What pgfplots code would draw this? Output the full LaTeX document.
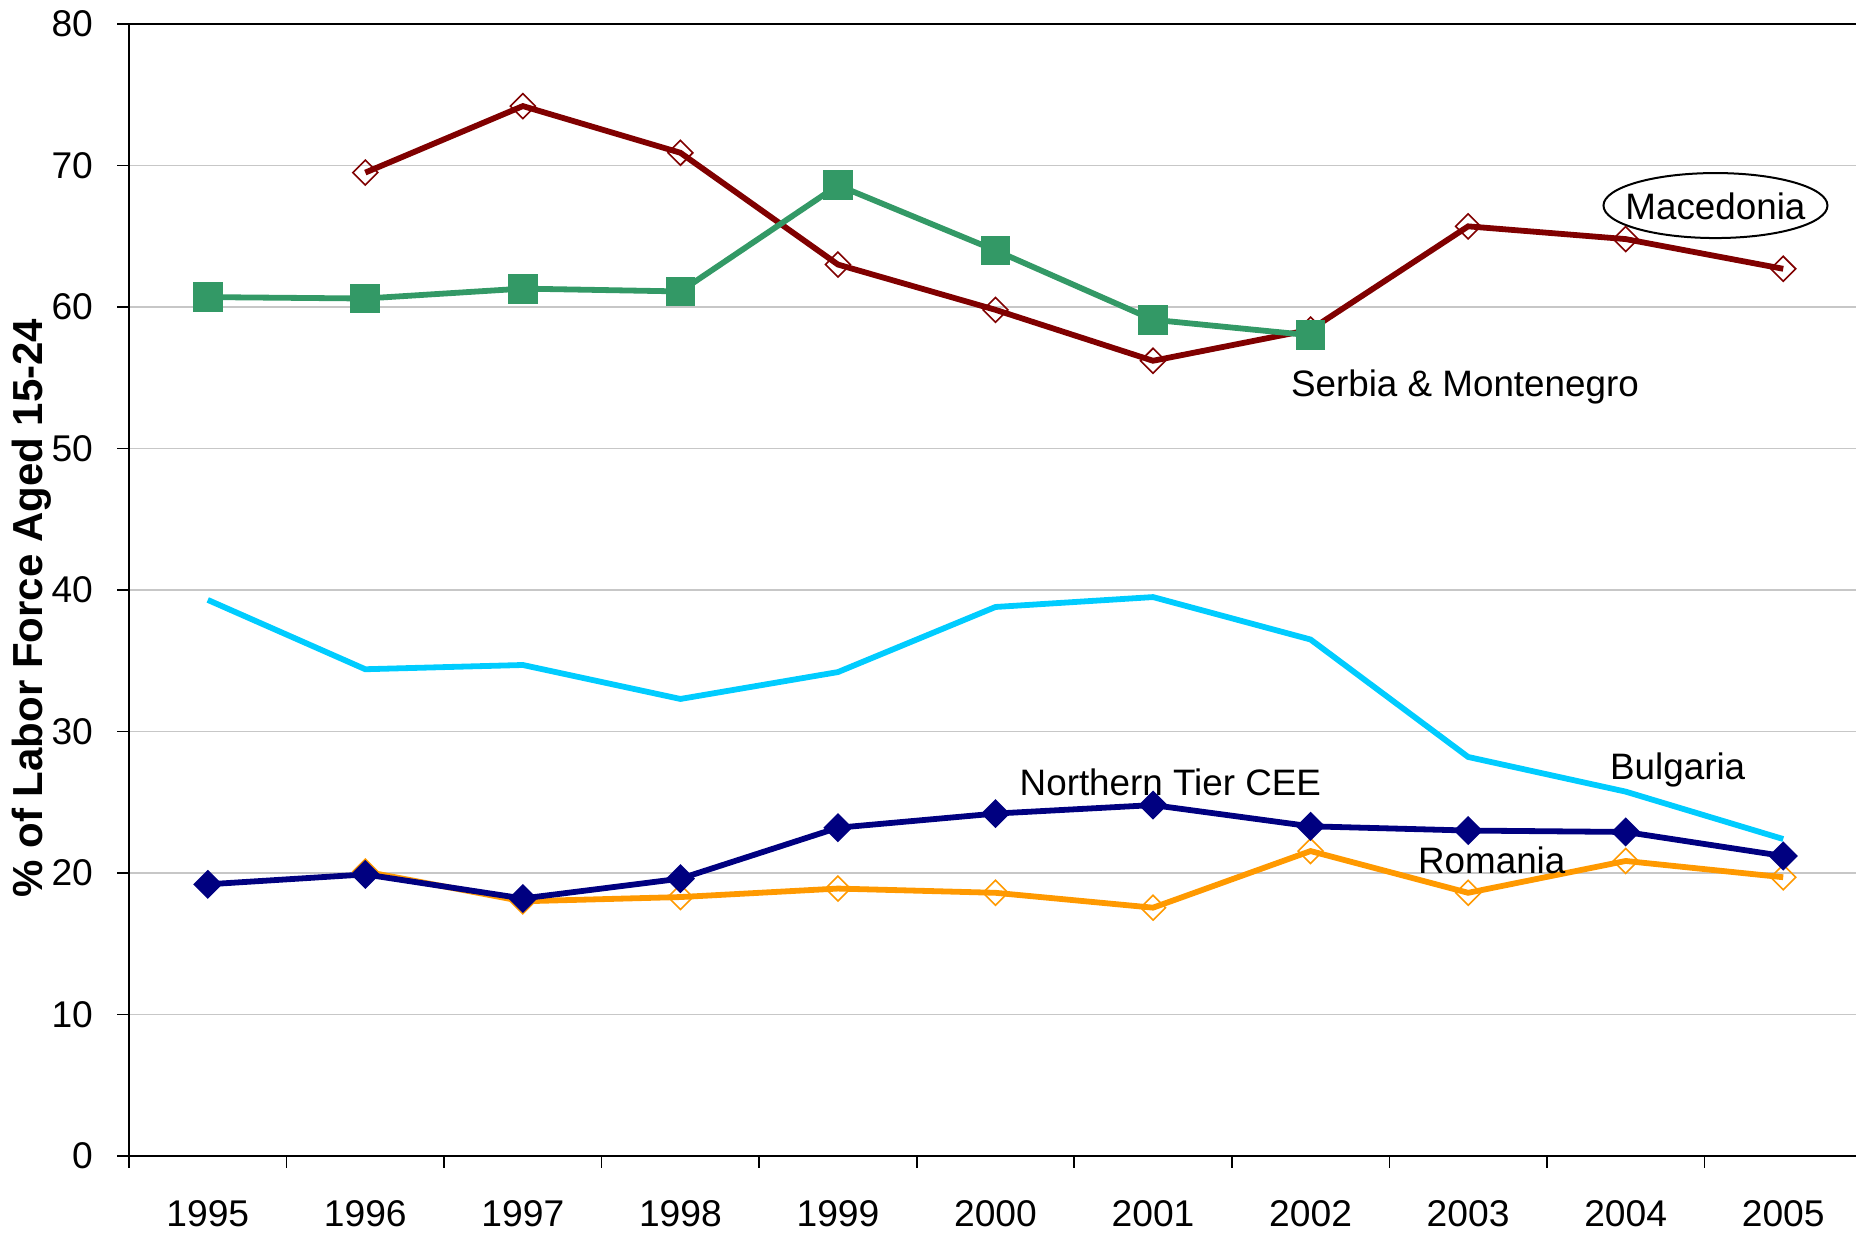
\documentclass[border=0pt]{standalone}
\usepackage{pgfplots}
\pgfplotsset{compat=1.18}
\usepackage{fontspec}
\setmainfont{Liberation Sans}
\usetikzlibrary{shapes.geometric}
\definecolor{maced}{HTML}{800000}
\definecolor{serb}{HTML}{339966}
\definecolor{bulg}{HTML}{00CCFF}
\definecolor{ntier}{HTML}{000080}
\definecolor{roma}{HTML}{FF9900}
\begin{document}
\begin{tikzpicture}
\useasboundingbox (0,0) rectangle (464pt,308.25pt);
\begin{axis}[
  at={(32.25pt,19.25pt)}, anchor=south west,
  scale only axis, width=433.25pt, height=283pt,
  xmin=1994.5, xmax=2005.5, ymin=0, ymax=80,
  ytick={0,10,...,80},
  xtick={1994.5,1995.5,...,2005.5},
  xticklabels={,,,,,,,,,,,,},
  extra x ticks={1995,1996,...,2005},
  extra x tick labels={1995,1996,1997,1998,1999,2000,2001,2002,2003,2004,2005},
  extra x tick style={major tick length=0pt, grid=none,
     xticklabel style={yshift=-7.5pt}},
  tick align=outside, tick pos=left, major tick length=3pt,
  ymajorgrids, grid style={draw=black!22, line width=0.4pt},
  axis line style={black, line width=0.5pt},
  tick style={black, line width=0.4pt},
  /pgf/number format/assume math mode=true,
  /pgf/number format/1000 sep={},
  tick label style={font=\fontsize{9.3}{10}\selectfont},
  yticklabel style={xshift=-2.5pt},
  every axis y label/.style={at={(axis description cs:-0.056,0.484)}, rotate=90, anchor=center,
     font=\fontsize{10.5}{12}\selectfont\bfseries},
  ylabel={\% of Labor Force Aged 15-24},
  clip=false,
]
\addplot[maced, line width=1.45pt, mark=square, mark size=2.2pt,
  mark options={solid, rotate=45, line width=0.4pt, fill=none}] coordinates {
(1996,69.5)(1997,74.2)(1998,70.9)(1999,63.0)(2000,59.8)(2001,56.2)(2002,58.4)(2003,65.7)(2004,64.8)(2005,62.7)};
\addplot[serb, line width=1.45pt, mark=square*, mark size=3pt, mark options={solid}] coordinates {
(1995,60.7)(1996,60.6)(1997,61.3)(1998,61.1)(1999,68.6)(2000,64.0)(2001,59.1)(2002,58.0)};
\addplot[bulg, line width=1.45pt, no markers] coordinates {
(1995,39.3)(1996,34.4)(1997,34.7)(1998,32.3)(1999,34.2)(2000,38.8)(2001,39.5)(2002,36.5)(2003,28.2)(2004,25.75)(2005,22.4)};
\addplot[roma, line width=1.45pt, mark=square, mark size=2.2pt,
  mark options={solid, rotate=45, line width=0.4pt, fill=none}] coordinates {
(1996,20.1)(1997,18.0)(1998,18.3)(1999,18.9)(2000,18.6)(2001,17.55)(2002,21.55)(2003,18.6)(2004,20.85)(2005,19.7)};
\addplot[ntier, line width=1.45pt, mark=square*, mark size=1.85pt,
  mark options={solid, rotate=45}] coordinates {
(1995,19.2)(1996,19.9)(1997,18.2)(1998,19.6)(1999,23.2)(2000,24.2)(2001,24.8)(2002,23.3)(2003,23.0)(2004,22.9)(2005,21.2)};
\node[draw=black, line width=0.5pt, ellipse, minimum width=56pt, minimum height=16.25pt, inner sep=0pt]
  at (axis cs:2004.57,67.17) {};
\begin{scope}[every node/.style={font=\fontsize{9.2}{11}\selectfont, anchor=base, inner sep=0pt}]
\node at (axis cs:2004.57,66.15) {Macedonia};
\node at (axis cs:2002.98,53.7) {Serbia \& Montenegro};
\node at (axis cs:2004.33,26.6) {Bulgaria};
\node at (axis cs:2001.11,25.5) {Northern Tier CEE};
\node at (axis cs:2003.15,19.93) {Romania};
\end{scope}
\end{axis}
\end{tikzpicture}
\end{document}
